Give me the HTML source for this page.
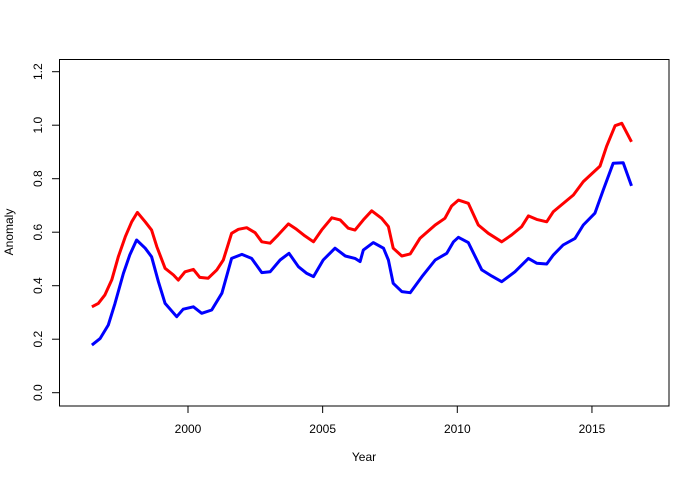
<!DOCTYPE html>
<html><head><meta charset="utf-8"><style>
html,body{margin:0;padding:0;background:#fff;}
svg{display:block;font-family:"Liberation Sans",Arial,sans-serif;}
</style></head><body>
<svg id="chart" width="700" height="480" viewBox="0 0 700 480">
<rect x="0" y="0" width="700" height="480" fill="#fff"/>
<rect x="59.5" y="59.5" width="609.5" height="346.5" fill="none" stroke="#000" stroke-width="1"/>
<g id="xaxis"></g>
<g id="yaxis"></g>
<g id="series"></g>
<text x="364" y="461" font-size="12" text-anchor="middle">Year</text>
<text transform="translate(13,232) rotate(-90)" font-size="12" text-anchor="middle">Anomaly</text>
</svg>
<script>
const xTicks = [2000, 2005, 2010, 2015];
const yTicks = [0.0, 0.2, 0.4, 0.6, 0.8, 1.0, 1.2];
const yTickLabels = ["0.0", "0.2", "0.4", "0.6", "0.8", "1.0", "1.2"];
const redYears = [1996.43,1996.67,1996.91,1997.17,1997.41,1997.67,1997.91,1998.12,1998.41,1998.65,1998.84,1999.15,1999.46,1999.64,1999.89,2000.20,2000.44,2000.75,2001.07,2001.31,2001.62,2001.87,2002.18,2002.49,2002.74,2003.05,2003.35,2003.73,2004.03,2004.34,2004.66,2004.96,2005.34,2005.65,2005.95,2006.20,2006.51,2006.82,2007.19,2007.44,2007.62,2007.94,2008.25,2008.61,2009.18,2009.54,2009.79,2010.04,2010.41,2010.78,2011.15,2011.65,2012.02,2012.39,2012.64,2012.95,2013.32,2013.57,2013.87,2014.31,2014.68,2015.30,2015.54,2015.86,2016.11,2016.47];
const redValues = [0.321,0.334,0.365,0.422,0.508,0.583,0.639,0.674,0.639,0.608,0.546,0.465,0.440,0.421,0.452,0.461,0.431,0.428,0.459,0.496,0.596,0.611,0.617,0.598,0.564,0.559,0.590,0.631,0.611,0.586,0.564,0.608,0.654,0.646,0.615,0.608,0.646,0.680,0.652,0.621,0.540,0.511,0.519,0.577,0.627,0.652,0.698,0.720,0.708,0.627,0.596,0.564,0.590,0.621,0.661,0.648,0.639,0.677,0.702,0.739,0.789,0.847,0.920,0.998,1.007,0.938];
const blueYears = [1996.43,1996.74,1997.04,1997.29,1997.60,1997.84,1998.09,1998.41,1998.65,1998.90,1999.15,1999.58,1999.82,2000.20,2000.51,2000.88,2001.26,2001.62,2002.00,2002.36,2002.74,2003.05,2003.42,2003.75,2004.10,2004.41,2004.66,2005.02,2005.46,2005.84,2006.20,2006.39,2006.51,2006.88,2007.26,2007.44,2007.62,2007.94,2008.25,2008.69,2009.18,2009.61,2009.86,2010.04,2010.41,2010.91,2011.28,2011.65,2012.14,2012.64,2012.95,2013.32,2013.57,2013.93,2014.37,2014.68,2015.11,2015.42,2015.79,2016.16,2016.47];
const blueValues = [0.178,0.203,0.253,0.334,0.446,0.515,0.571,0.540,0.508,0.415,0.334,0.284,0.312,0.321,0.297,0.309,0.372,0.502,0.517,0.502,0.449,0.452,0.496,0.521,0.471,0.446,0.434,0.496,0.540,0.511,0.502,0.490,0.533,0.561,0.540,0.496,0.409,0.378,0.374,0.434,0.496,0.521,0.564,0.581,0.561,0.459,0.436,0.415,0.452,0.502,0.484,0.481,0.515,0.552,0.577,0.627,0.671,0.758,0.858,0.860,0.773];

const NS = "http://www.w3.org/2000/svg";
function xScale(yr){ return 188 + (yr - 2000) * 26.93; }
function yScale(v){ return 392.7 - v * 267.5; }

const xa = document.getElementById('xaxis');
xTicks.forEach(t => {
  const l = document.createElementNS(NS,'line');
  l.setAttribute('x1', xScale(t)); l.setAttribute('x2', xScale(t));
  l.setAttribute('y1', 406); l.setAttribute('y2', 413);
  l.setAttribute('stroke','#000');
  
  
  xa.appendChild(l);
  const tx = document.createElementNS(NS,'text');
  tx.setAttribute('x', xScale(t)); tx.setAttribute('y', 433);
  tx.setAttribute('font-size','12'); tx.setAttribute('text-anchor','middle');
  tx.textContent = String(t);
  
  
  xa.appendChild(tx);
});
const ya = document.getElementById('yaxis');
yTicks.forEach((t,i) => {
  const l = document.createElementNS(NS,'line');
  l.setAttribute('x1', 52); l.setAttribute('x2', 59.5);
  l.setAttribute('y1', yScale(t)); l.setAttribute('y2', yScale(t));
  l.setAttribute('stroke','#000');
  
  
  ya.appendChild(l);
  const tx = document.createElementNS(NS,'text');
  tx.setAttribute('transform', 'translate(42,' + yScale(t) + ') rotate(-90)');
  tx.setAttribute('font-size','12'); tx.setAttribute('text-anchor','middle');
  tx.textContent = yTickLabels[i];
  
  
  ya.appendChild(tx);
});
function drawLine(years, vals, color, name){
  const p = document.createElementNS(NS,'polyline');
  p.setAttribute('points', years.map((y,i) => xScale(y).toFixed(1) + ',' + yScale(vals[i]).toFixed(1)).join(' '));
  p.setAttribute('fill','none'); p.setAttribute('stroke',color);
  p.setAttribute('stroke-width','3'); p.setAttribute('stroke-linejoin','round');
  
  
  document.getElementById('series').appendChild(p);
}
drawLine(redYears, redValues, '#ff0000', 'red-series-line');
drawLine(blueYears, blueValues, '#0000ff', 'blue-series-line');
</script>
</body></html>
